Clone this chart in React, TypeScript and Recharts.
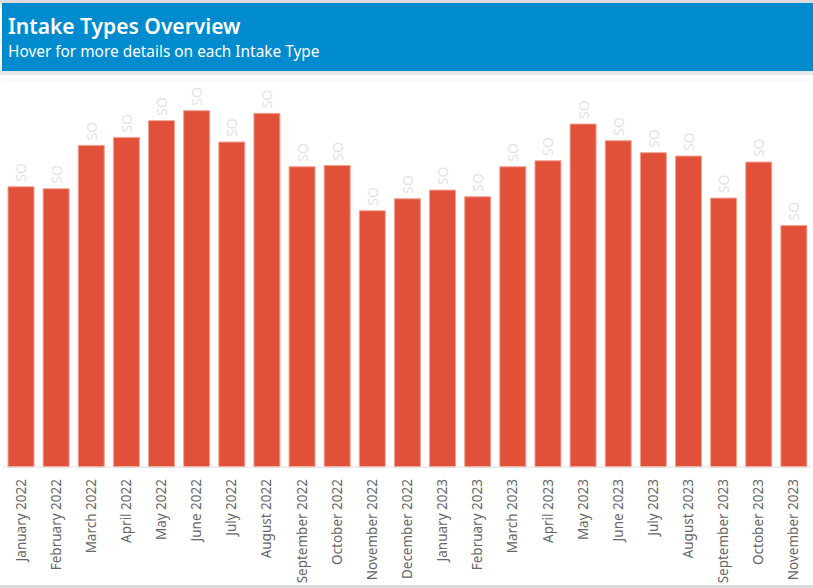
import { BarChart, Bar, XAxis, YAxis, CartesianGrid, LabelList } from 'recharts';

// Monthly intake counts (relative units, gridline every 100)
const months = [
  'January 2022', 'February 2022', 'March 2022', 'April 2022', 'May 2022', 'June 2022',
  'July 2022', 'August 2022', 'September 2022', 'October 2022', 'November 2022', 'December 2022',
  'January 2023', 'February 2023', 'March 2023', 'April 2023', 'May 2023', 'June 2023',
  'July 2023', 'August 2023', 'September 2023', 'October 2023', 'November 2023',
];
const intakes = [
  420, 417, 482, 494, 519, 534, 487, 530, 450, 452, 384, 402,
  415, 405, 450, 459, 514, 489, 471, 466, 403, 457, 362,
];
const yTicks = [0, 100, 200, 300, 400, 500];
const barLabel = 'SO';

const FONT = '"Noto Sans", "Open Sans", sans-serif';

const chartData = months.map((m, i) => ({ month: m, value: intakes[i] }));

function MonthTick(props: any) {
  const { x, y, payload } = props;
  return (
    <text
      x={x}
      y={y}
      transform={`rotate(-90, ${x}, ${y})`}
      textAnchor="end"
      dominantBaseline="central"
      fill="#666666"
      fontSize={13.5}
      fontFamily={FONT}
    >
      {payload.value}
    </text>
  );
}

// faint rotated text that sits above every bar
function FaintLabel(props: any) {
  const { x, y, width } = props;
  const cx = x + width / 2;
  const ty = y - 5;
  return (
    <text
      x={cx}
      y={ty}
      transform={`rotate(-90, ${cx}, ${ty})`}
      textAnchor="start"
      dominantBaseline="central"
      fill="#E3E3E3"
      fontSize={14}
      fontFamily={FONT}
    >
      {barLabel}
    </text>
  );
}

export default function App() {
  return (
    <div style={{ position: 'absolute', top: 0, left: 0, width: 813, height: 588, background: '#ffffff', overflow: 'hidden' }}>
      <div style={{ position: 'absolute', top: 0, left: 0, width: 813, height: 3, background: '#DCDCDC' }} />
      <div
        style={{
          position: 'absolute', top: 3, left: 2, width: 811, height: 68,
          background: '#008BCE', color: '#ffffff', fontFamily: FONT, zIndex: 2,
        }}
      >
        <div style={{ position: 'absolute', left: 6, top: 10, fontSize: 21, fontWeight: 600, lineHeight: '26px' }}>
          Intake Types Overview
        </div>
        <div style={{ position: 'absolute', left: 6, top: 39, fontSize: 15.4, lineHeight: '20px' }}>
          Hover for more details on each Intake Type
        </div>
      </div>
      <div style={{ position: 'absolute', top: 71, left: 0, width: 813, height: 4, background: '#E8E8E8', zIndex: 2 }} />
      <div style={{ position: 'absolute', top: 585, left: 0, width: 813, height: 3, background: '#DCDCDC', zIndex: 2 }} />
      <div style={{ position: 'absolute', top: 0, left: 0 }}>
        <BarChart
          width={813}
          height={588}
          data={chartData}
          margin={{ top: 80, right: 2, left: 3, bottom: 0 }}
          barSize={26}
        >
          <CartesianGrid horizontal vertical={false} stroke="#EFEFEF" />
          <YAxis
            domain={[0, 580]}
            ticks={yTicks}
            width={0}
            tick={false}
            tickLine={false}
            axisLine={{ stroke: '#F0F0F0' }}
          />
          <XAxis
            dataKey="month"
            interval={0}
            height={121}
            tick={<MonthTick />}
            tickLine={false}
            tickMargin={6}
            axisLine={{ stroke: '#E6E6E6' }}
          />
          <Bar dataKey="value" fill="#E15139" stroke="#F2A193" strokeWidth={1} isAnimationActive={false}>
            <LabelList dataKey="value" content={<FaintLabel />} />
          </Bar>
        </BarChart>
      </div>
    </div>
  );
}
